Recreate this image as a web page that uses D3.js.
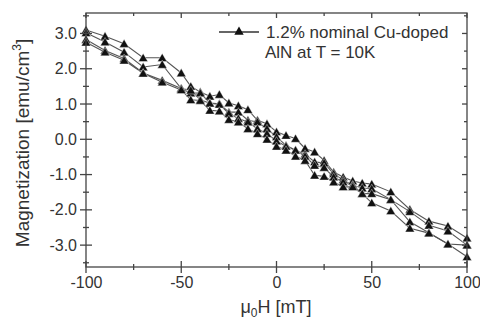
<!DOCTYPE html>
<html><head><meta charset="utf-8">
<script src="https://cdn.jsdelivr.net/npm/d3@7"></script>
<style>body{margin:0;background:#fff}svg{display:block}text{font-family:"Liberation Sans",Arial,sans-serif;fill:#333}</style>
</head><body><svg id="c" width="480" height="321"></svg>
<script>
const fieldValues = [-100,-90,-80,-70,-60,-50,-45,-40,-35,-30,-25,-20,-15,-10,-5,0,5,10,15,20,25,30,35,40,45,50,60,70,80,90,100];
const seriesA = [3.10,2.92,2.71,2.31,2.31,1.88,1.50,1.34,1.22,1.27,1.03,0.95,0.84,0.54,0.44,0.21,0.11,0.02,-0.26,-0.36,-0.60,-0.93,-1.07,-1.18,-1.24,-1.27,-1.49,-1.99,-2.32,-2.46,-2.80];
const seriesB = [3.02,2.76,2.47,2.05,2.12,1.44,1.31,1.31,1.03,1.01,0.77,0.77,0.54,0.49,0.30,0.07,-0.17,-0.31,-0.42,-0.64,-0.67,-0.98,-1.15,-1.30,-1.38,-1.40,-1.71,-2.05,-2.44,-2.60,-3.00];
const seriesC = [2.83,2.52,2.29,1.88,1.67,1.44,1.39,1.12,1.02,0.99,0.73,0.59,0.49,0.30,0.16,-0.05,-0.20,-0.31,-0.48,-0.74,-0.80,-1.07,-1.21,-1.30,-1.54,-1.54,-1.71,-2.34,-2.65,-2.97,-3.33];
const seriesD = [2.75,2.47,2.24,1.87,1.62,1.40,1.12,1.10,0.82,0.80,0.56,0.49,0.30,0.16,0.00,-0.20,-0.31,-0.48,-0.60,-1.02,-1.05,-1.21,-1.35,-1.35,-1.54,-1.80,-2.03,-2.52,-2.66,-2.97,-3.00];
const xTicks = [-100,-50,0,50,100];
const xMinor = [-75,-25,25,75];
const yTicks = [3,2,1,0,-1,-2,-3];
const yMinor = [3.5,2.5,1.5,0.5,-0.5,-1.5,-2.5,-3.5];
const legendLines = ["1.2% nominal Cu-doped","AlN at T = 10K"];

const L=86,R=467,T=13,B=267;
const svg=d3.select("#c");
const x=d3.scaleLinear().domain([-100,100]).range([L,R]);
const y=d3.scaleLinear().domain([-3.62,3.58]).range([B,T]);
const axCol="#444";
const hy=s=>s.replace("\u2212","-");

// data
const allSeries=[seriesA,seriesB,seriesC,seriesD];
const line=d3.line().x(d=>x(d[0])).y(d=>y(d[1]));
const tri=d3.symbol().type(d3.symbolTriangle).size(38);
const g=svg.append("g");
allSeries.forEach(s=>{
  const pts=fieldValues.map((f,i)=>[f,s[i]]);
  g.append("path").attr("d",line(pts)).attr("fill","none").attr("stroke","#555").attr("stroke-width",1.1);
});
allSeries.forEach(s=>{
  const pts=fieldValues.map((f,i)=>[f,s[i]]);
  g.selectAll(null).data(pts).enter().append("path").attr("d",tri)
   .attr("transform",d=>`translate(${x(d[0])},${y(d[1])+1})`).attr("fill","#111").attr("stroke","#fff").attr("stroke-width",0.4);
});

// frame
svg.append("rect").attr("x",L).attr("y",T).attr("width",R-L).attr("height",B-T).attr("fill","none").attr("stroke",axCol).attr("stroke-width",1.3);

// bottom axis (ticks crossing)
const bx=svg.append("g").attr("transform",`translate(0,${B})`);
bx.call(d3.axisBottom(x).tickValues(xTicks).tickSize(0).tickPadding(10).tickFormat(d=>hy(d3.format("d")(d))));
bx.select(".domain").remove();
bx.selectAll("text").attr("font-size",16).style("fill","#333").attr("font-family","Liberation Sans, Arial");
xTicks.forEach(v=>svg.append("line").attr("x1",x(v)).attr("x2",x(v)).attr("y1",B-6).attr("y2",B+6).attr("stroke",axCol).attr("stroke-width",1.3));
xMinor.forEach(v=>svg.append("line").attr("x1",x(v)).attr("x2",x(v)).attr("y1",B-3).attr("y2",B+3).attr("stroke",axCol).attr("stroke-width",1.3));
// top ticks inward
xTicks.concat(xMinor).forEach(v=>svg.append("line").attr("x1",x(v)).attr("x2",x(v)).attr("y1",T).attr("y2",T+(xTicks.includes(v)?5:3)).attr("stroke",axCol).attr("stroke-width",1.3));

// left axis
const ly=svg.append("g").attr("transform",`translate(${L},0)`);
ly.call(d3.axisLeft(y).tickValues(yTicks).tickSize(0).tickPadding(9).tickFormat(d=>hy(d3.format(".1f")(d))));
ly.select(".domain").remove();
ly.selectAll("text").attr("font-size",16).style("fill","#333").attr("font-family","Liberation Sans, Arial");
yTicks.forEach(v=>svg.append("line").attr("x1",L-6).attr("x2",L+6).attr("y1",y(v)).attr("y2",y(v)).attr("stroke",axCol).attr("stroke-width",1.3));
yMinor.forEach(v=>{ if(y(v)>=T&&y(v)<=B) svg.append("line").attr("x1",L-3).attr("x2",L+3).attr("y1",y(v)).attr("y2",y(v)).attr("stroke",axCol).attr("stroke-width",1.3);});
// right ticks inward
yTicks.concat(yMinor).forEach(v=>{ if(y(v)>=T&&y(v)<=B) svg.append("line").attr("x1",R).attr("x2",R-(yTicks.includes(v)?5:3)).attr("y1",y(v)).attr("y2",y(v)).attr("stroke",axCol).attr("stroke-width",1.3);});

// axis titles
const yt=svg.append("text").attr("transform","translate(29,143) rotate(-90)").attr("text-anchor","middle").attr("font-size",19);
yt.append("tspan").text("Magnetization [emu/cm");
yt.append("tspan").attr("font-size",12).attr("dy",-8).text("3");
yt.append("tspan").attr("dy",8).text("]");
const xt=svg.append("text").attr("x",276).attr("y",313).attr("text-anchor","middle").attr("font-size",18);
xt.append("tspan").text("μ");
xt.append("tspan").attr("font-size",12).attr("dy",4).text("0");
xt.append("tspan").attr("dy",-4).text("H [mT]");

// legend
svg.append("line").attr("x1",219).attr("x2",259).attr("y1",32).attr("y2",32).attr("stroke","#333").attr("stroke-width",1.3);
svg.append("path").attr("d",tri).attr("transform","translate(239,32)").attr("fill","#111");
svg.append("text").attr("x",266).attr("y",38).attr("font-size",17).text(legendLines[0]);
svg.append("text").attr("x",265).attr("y",58).attr("font-size",17).text(legendLines[1]);
</script></body></html>
